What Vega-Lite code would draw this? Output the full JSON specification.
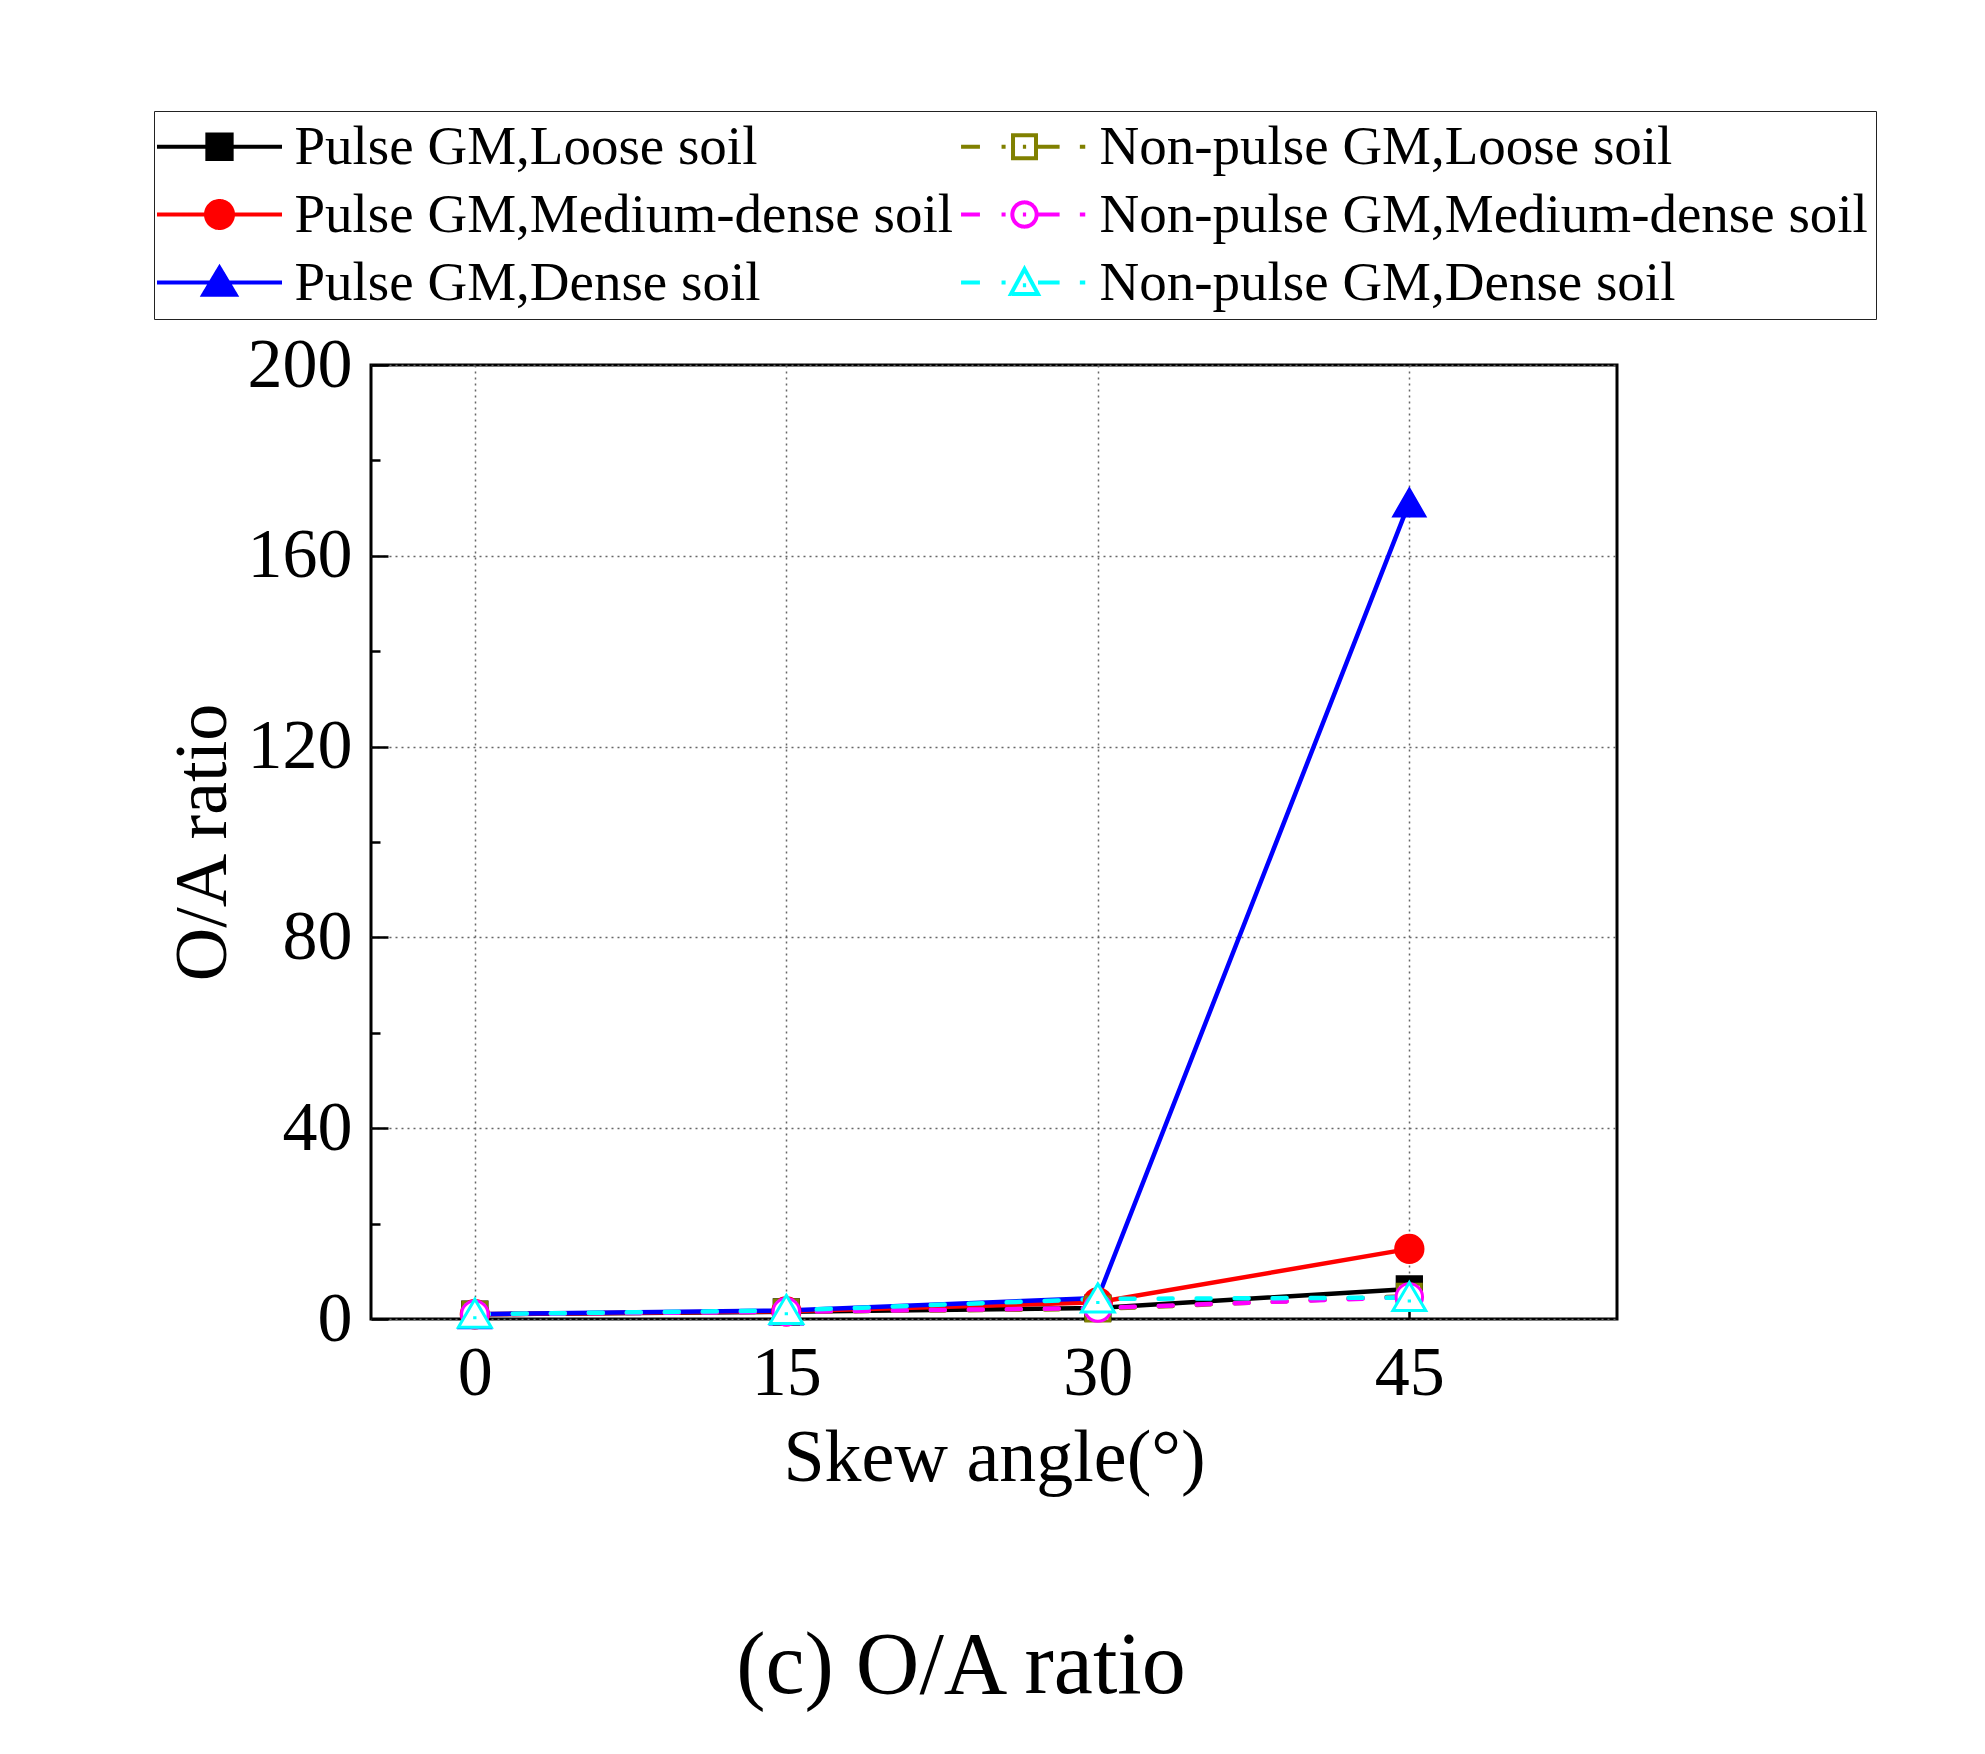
{
  "$schema": "https://vega.github.io/schema/vega-lite/v6.json",
  "width": 1246,
  "height": 954,
  "autosize": {"type": "none"},
  "padding": {"left": 371, "top": 365, "right": 368, "bottom": 435},
  "background": "white",
  "title": {"text": "(c) O/A ratio", "orient": "bottom", "anchor": "middle", "frame": "group", "offset": 128, "dx": -33, "fontSize": 88, "fontWeight": "normal", "font": "Liberation Serif", "color": "black"},
  "data": {
    "values": [
      {"series": "Pulse GM,Loose soil", "angle": 0, "ratio": 1.0},
      {"series": "Pulse GM,Loose soil", "angle": 15, "ratio": 1.5},
      {"series": "Pulse GM,Loose soil", "angle": 30, "ratio": 2.3},
      {"series": "Pulse GM,Loose soil", "angle": 45, "ratio": 6.3},
      {"series": "Pulse GM,Medium-dense soil", "angle": 0, "ratio": 1.0},
      {"series": "Pulse GM,Medium-dense soil", "angle": 15, "ratio": 1.6},
      {"series": "Pulse GM,Medium-dense soil", "angle": 30, "ratio": 3.5},
      {"series": "Pulse GM,Medium-dense soil", "angle": 45, "ratio": 14.7},
      {"series": "Pulse GM,Dense soil", "angle": 0, "ratio": 1.0},
      {"series": "Pulse GM,Dense soil", "angle": 15, "ratio": 1.8},
      {"series": "Pulse GM,Dense soil", "angle": 30, "ratio": 4.4},
      {"series": "Pulse GM,Dense soil", "angle": 45, "ratio": 171.2},
      {"series": "Non-pulse GM,Loose soil", "angle": 0, "ratio": 1.0},
      {"series": "Non-pulse GM,Loose soil", "angle": 15, "ratio": 1.5},
      {"series": "Non-pulse GM,Loose soil", "angle": 30, "ratio": 2.1},
      {"series": "Non-pulse GM,Loose soil", "angle": 45, "ratio": 4.8},
      {"series": "Non-pulse GM,Medium-dense soil", "angle": 0, "ratio": 1.0},
      {"series": "Non-pulse GM,Medium-dense soil", "angle": 15, "ratio": 1.5},
      {"series": "Non-pulse GM,Medium-dense soil", "angle": 30, "ratio": 2.3},
      {"series": "Non-pulse GM,Medium-dense soil", "angle": 45, "ratio": 4.6},
      {"series": "Non-pulse GM,Dense soil", "angle": 0, "ratio": 1.0},
      {"series": "Non-pulse GM,Dense soil", "angle": 15, "ratio": 1.8},
      {"series": "Non-pulse GM,Dense soil", "angle": 30, "ratio": 4.2},
      {"series": "Non-pulse GM,Dense soil", "angle": 45, "ratio": 4.5}
    ]
  },
  "encoding": {
    "x": {
      "field": "angle", "type": "quantitative",
      "scale": {"domain": [-5, 55], "nice": false, "zero": false},
      "axis": {"values": [0, 15, 30, 45], "title": "Skew angle(°)", "labelPadding": 37, "titlePadding": 14, "tickSize": -17}
    },
    "y": {
      "field": "ratio", "type": "quantitative",
      "scale": {"domain": [0, 200], "nice": false},
      "axis": {"values": [0, 40, 80, 120, 160, 200], "title": "O/A ratio", "labelPadding": 36, "titlePadding": 6, "tickSize": -17}
    }
  },
  "layer": [
    {
      "layer": [
        {
          "transform": [{"filter": "indexof(datum.series, 'Non-pulse') < 0"}],
          "mark": {"type": "line", "strokeWidth": 4.5, "clip": true},
          "encoding": {
            "stroke": {
              "field": "series", "type": "nominal",
              "scale": {
                "domain": ["Pulse GM,Loose soil", "Non-pulse GM,Loose soil", "Pulse GM,Medium-dense soil", "Non-pulse GM,Medium-dense soil", "Pulse GM,Dense soil", "Non-pulse GM,Dense soil"],
                "range": ["#000000", "#808000", "#FF0000", "#FF00FF", "#0000FF", "#00FFFF"]
              },
              "legend": {
                "title": null, "orient": "none", "legendX": -217, "legendY": -254,
                "columns": 2, "direction": "horizontal",
                "symbolSize": 729, "symbolStrokeWidth": 4, "symbolOffset": 30,
                "labelOffset": 47.5, "labelFontSize": 55, "labelFont": "Liberation Serif", "labelColor": "black", "labelLimit": 0,
                "columnPadding": 0, "rowPadding": 12, "padding": 8,
                "strokeColor": "#222222", "fillColor": "white",
                "encode": {
                  "symbols": {
                    "update": {
                      "shape": {"signal": "datum.value === 'Pulse GM,Loose soil' ? 'M-4.63,0H4.63M-0.9,-0.9H0.9V0.9H-0.9Z' : datum.value === 'Pulse GM,Medium-dense soil' ? 'M-4.63,0H4.63M-1,0A1,1,0,1,1,1,0A1,1,0,1,1,-1,0Z' : datum.value === 'Pulse GM,Dense soil' ? 'M-4.63,0H4.63M0,-1.1L1.2,0.9H-1.2Z' : datum.value === 'Non-pulse GM,Loose soil' ? 'M-4.7,0H-3.3M-1.7,0H-1.4M-0.85,-0.85H0.85V0.85H-0.85ZM-0.12,0H0.12M0.85,0H2.6M4.1,0H4.5' : datum.value === 'Non-pulse GM,Medium-dense soil' ? 'M-4.7,0H-3.3M-1.7,0H-1.4M-0.9,0A0.9,0.9,0,1,1,0.9,0A0.9,0.9,0,1,1,-0.9,0ZM-0.12,0H0.12M0.9,0H2.6M4.1,0H4.5' : 'M-4.7,0H-3.3M-1.7,0H-1.4M0,-1L1,0.85H-1ZM-0.12,0.2H0.12M1,0H2.6M4.1,0H4.5'"},
                      "fill": {"signal": "datum.value === 'Pulse GM,Loose soil' ? '#000000' : datum.value === 'Pulse GM,Medium-dense soil' ? '#FF0000' : datum.value === 'Pulse GM,Dense soil' ? '#0000FF' : '#FFFFFF'"},
                      "strokeWidth": {"value": 4},
                      "strokeDash": {"value": [1, 0]},
                      "size": {"value": 729},
                      "opacity": {"value": 1}
                    }
                  }
                }
              }
            }
          }
        },
        {
          "transform": [{"filter": "indexof(datum.series, 'Non-pulse') >= 0"}],
          "mark": {"type": "line", "strokeWidth": 4.5, "strokeDash": [14, 24], "strokeCap": "round", "clip": true},
          "encoding": {
            "stroke": {"field": "series", "type": "nominal"}
          }
        },
        {
          "transform": [{"filter": "datum.series === 'Pulse GM,Loose soil'"}],
          "mark": {"type": "point", "shape": "square", "size": 640, "filled": true, "fill": "#000000", "stroke": "#000000", "strokeWidth": 2, "opacity": 1}
        },
        {
          "transform": [{"filter": "datum.series === 'Pulse GM,Medium-dense soil'"}],
          "mark": {"type": "point", "shape": "circle", "size": 800, "filled": true, "fill": "#FF0000", "stroke": "#FF0000", "strokeWidth": 2, "opacity": 1}
        },
        {
          "transform": [{"filter": "datum.series === 'Pulse GM,Dense soil'"}],
          "mark": {"type": "point", "shape": "triangle-up", "size": 1050, "filled": true, "fill": "#0000FF", "stroke": "#0000FF", "strokeWidth": 2, "opacity": 1}
        },
        {
          "transform": [{"filter": "datum.series === 'Non-pulse GM,Loose soil'"}],
          "mark": {"type": "point", "shape": "M-0.9,-0.9H0.9V0.9H-0.9ZM-0.12,0H0.12", "size": 700, "filled": true, "fill": "#FFFFFF", "stroke": "#808000", "strokeWidth": 3, "opacity": 1}
        },
        {
          "transform": [{"filter": "datum.series === 'Non-pulse GM,Medium-dense soil'"}],
          "mark": {"type": "point", "shape": "M-1,0A1,1,0,1,1,1,0A1,1,0,1,1,-1,0ZM-0.12,0H0.12", "size": 700, "filled": true, "fill": "#FFFFFF", "stroke": "#FF00FF", "strokeWidth": 3, "opacity": 1}
        }
      ]
    },
    {
      "transform": [{"filter": "datum.series === 'Non-pulse GM,Dense soil'"}],
      "mark": {"type": "point", "shape": "M0,-1.1L1.2,0.95H-1.2ZM-0.12,0.25H0.12", "size": 750, "filled": true, "fill": "#FFFFFF", "stroke": "#00FFFF", "strokeWidth": 3, "opacity": 1},
      "encoding": {
        "x": {"field": "angle", "type": "quantitative", "axis": null},
        "y": {
          "field": "ratio", "type": "quantitative",
          "axis": {"orient": "left", "values": [20, 60, 100, 140, 180], "labels": false, "grid": false, "title": null, "tickSize": -9, "domain": false}
        }
      }
    }
  ],
  "resolve": {"axis": {"y": "independent", "x": "independent"}},
  "config": {
    "font": "Liberation Serif",
    "view": {"stroke": "black", "strokeWidth": 3},
    "axis": {
      "domain": false,
      "grid": true,
      "gridColor": "#666666",
      "gridDash": [2, 4],
      "gridWidth": 1.5,
      "tickColor": "black",
      "tickWidth": 2.5,
      "labelFont": "Liberation Serif",
      "labelFontSize": 70,
      "labelColor": "black",
      "titleFont": "Liberation Serif",
      "titleFontSize": 74,
      "titleFontWeight": "normal",
      "titleColor": "black"
    }
  }
}
